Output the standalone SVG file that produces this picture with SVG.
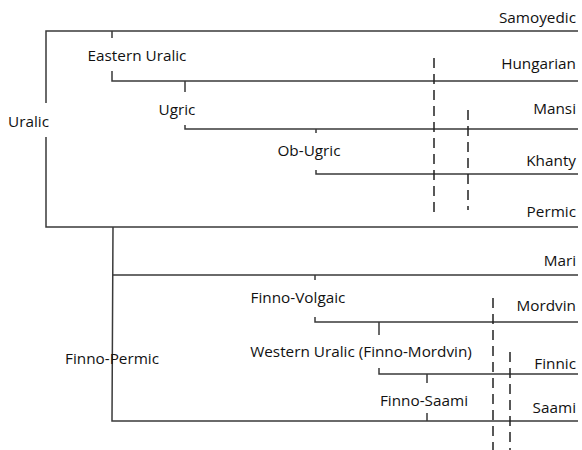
<svg xmlns="http://www.w3.org/2000/svg" width="582" height="450" viewBox="0 0 582 450">
<style>
.ln{stroke:#3a3a3a;stroke-width:1.5;fill:none}
.ds{stroke:#222;stroke-width:1.5;fill:none;stroke-dasharray:10,6}
text{font-family:"Open Sans","Liberation Sans",sans-serif;font-size:15.3px;fill:#111}
.r{text-anchor:end}
.m{text-anchor:middle}
</style>
<rect width="582" height="450" fill="#fff"/>
<g id="connectors">
<path class="ln" d="M46,103V31H578M46,137V227H578"/>
<path class="ln" d="M112,31V38M112,71V81H578"/>
<path class="ln" d="M185,81V92M185,125V129H578"/>
<path class="ln" d="M316,129V133M316,170V174H578"/>
<path class="ln" d="M113,227L112,421H578M113,275H578"/>
<path class="ln" d="M315,275V280M315,317V322H578"/>
<path class="ln" d="M379,322V335M379,368V374H578"/>
<path class="ln" d="M427,374V383M427,413V421"/>
<path class="ds" d="M434,58V212M468,110V210M493,298V450M510,352V450"/>
</g>
<g id="uralic"><text x="8" y="127">Uralic</text></g>
<g id="eastern-uralic"><text class="m" x="137" y="61">Eastern Uralic</text></g>
<g id="ugric"><text class="m" x="177" y="115">Ugric</text></g>
<g id="ob-ugric"><text class="m" x="309" y="156">Ob-Ugric</text></g>
<g id="finno-permic"><text x="65" y="364">Finno-Permic</text></g>
<g id="finno-volgaic"><text class="m" x="298" y="303">Finno-Volgaic</text></g>
<g id="western-uralic"><text class="m" x="361" y="357">Western Uralic (Finno-Mordvin)</text></g>
<g id="finno-saami"><text class="m" x="424" y="406">Finno-Saami</text></g>
<g id="samoyedic"><text class="r" x="576" y="23">Samoyedic</text></g>
<g id="hungarian"><text class="r" x="576" y="69">Hungarian</text></g>
<g id="mansi"><text class="r" x="576" y="114">Mansi</text></g>
<g id="khanty"><text class="r" x="576" y="166">Khanty</text></g>
<g id="permic"><text class="r" x="576" y="217">Permic</text></g>
<g id="mari"><text class="r" x="576" y="266">Mari</text></g>
<g id="mordvin"><text class="r" x="576" y="311">Mordvin</text></g>
<g id="finnic"><text class="r" x="576" y="369">Finnic</text></g>
<g id="saami"><text class="r" x="576" y="413">Saami</text></g>
</svg>
